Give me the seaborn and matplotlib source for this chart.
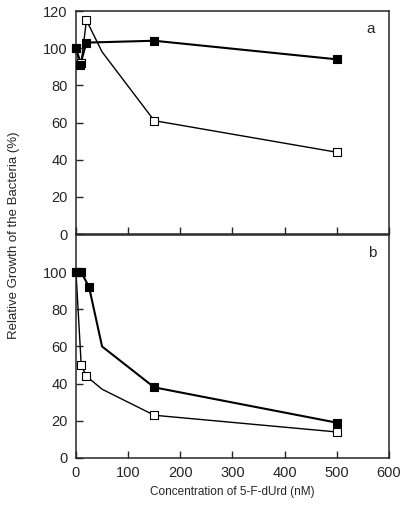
import numpy as np
import matplotlib
matplotlib.use("Agg")
import matplotlib.pyplot as plt
import seaborn as sns

sns.set_style("ticks")
plt.rcParams['font.family'] = ['Liberation Sans', 'DejaVu Sans']

# panel a
a_filled_x = [0, 8, 20, 150, 500]
a_filled_y = [100, 91, 103, 104, 94]
a_open_x = [0, 10, 20, 50, 150, 500]
a_open_y = [100, 92, 115, 98, 61, 44]
a_open_mark = [True, True, True, False, True, True]

# panel b
b_filled_x = [0, 5, 10, 25, 50, 150, 500]
b_filled_y = [100, 100, 100, 92, 60, 38, 19]
b_filled_mark = [True, True, True, True, False, True, True]
b_open_x = [0, 10, 20, 50, 150, 500]
b_open_y = [100, 50, 44, 37, 23, 14]
b_open_mark = [True, True, True, False, True, True]

x_ticks = [0, 100, 200, 300, 400, 500, 600]
a_yticks = [0, 20, 40, 60, 80, 100, 120]
b_yticks = [0, 20, 40, 60, 80, 100]


def draw(ax, x, y, mark, filled, lw):
    x = np.array(x)
    y = np.array(y)
    mark = np.array(mark)
    sns.lineplot(x=x, y=y, ax=ax, sort=False, estimator=None, color="black",
                 linewidth=lw, zorder=2)
    sns.scatterplot(x=x[mark], y=y[mark], ax=ax, marker="s", s=26,
                    color="black" if filled else "white", edgecolor="black",
                    linewidth=0.8, zorder=3, clip_on=False)


fig = plt.figure(figsize=(4.0, 5.05), dpi=100)
ax1 = fig.add_axes([0.19, 0.5366, 0.7825, 0.4416])
ax2 = fig.add_axes([0.19, 0.0931, 0.7825, 0.4416])

draw(ax1, a_open_x, a_open_y, a_open_mark, False, 1.0)
draw(ax1, a_filled_x, a_filled_y, [True] * len(a_filled_x), True, 1.5)
draw(ax2, b_open_x, b_open_y, b_open_mark, False, 1.0)
draw(ax2, b_filled_x, b_filled_y, b_filled_mark, True, 1.5)

for ax in (ax1, ax2):
    ax.set_xlim(0, 600)
    ax.set_ylim(0, 120)
    ax.set_xticks(x_ticks)
    ax.tick_params(direction="in", length=5, width=1, labelsize=10.5, pad=6)
    for s in ax.spines.values():
        s.set_linewidth(1.1)
    ax.grid(False)

ax1.set_yticks(a_yticks)
ax1.set_xticklabels([])
ax2.set_yticks(b_yticks)

ax1.text(0.955, 0.95, "a", transform=ax1.transAxes, ha="right", va="top", fontsize=11)
ax2.text(0.96, 0.95, "b", transform=ax2.transAxes, ha="right", va="top", fontsize=11)

ax2.set_xlabel("Concentration of 5-F-dUrd (nM)", fontsize=8.5, labelpad=4)
fig.text(0.035, 0.535, "Relative Growth of the Bacteria (%)", rotation=90,
         ha="center", va="center", fontsize=9.5)

plt.savefig("out.png", dpi=100)
plt.clf()
